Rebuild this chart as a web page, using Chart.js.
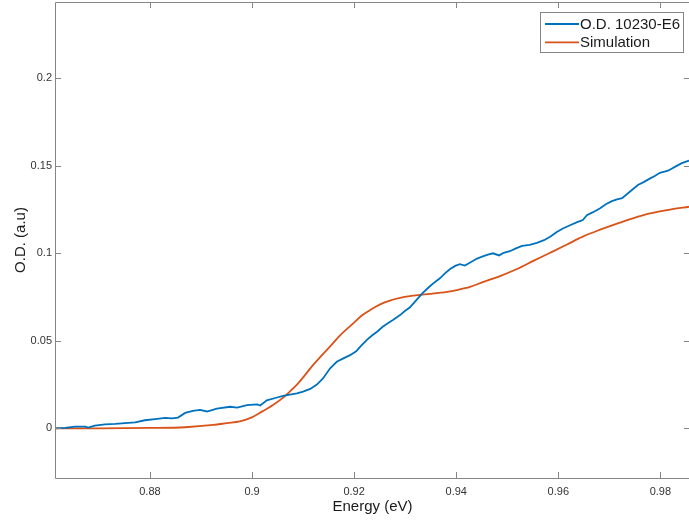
<!DOCTYPE html>
<html>
<head>
<meta charset="utf-8">
<title>O.D. vs Energy</title>
<script src="https://cdn.jsdelivr.net/npm/chart.js@4.4.1/dist/chart.umd.min.js"></script>
<style>
  html, body { margin: 0; padding: 0; background: #fff; overflow: hidden; }
  #wrap { width: 690px; height: 523px; }
</style>
</head>
<body>
<div id="wrap"><canvas id="od-chart"></canvas></div>
<script>
// Measured optical density (sample 10230-E6)
const measEnergy = [0.8614, 0.8634, 0.8653, 0.8673, 0.8679, 0.8692, 0.8712, 0.8732, 0.8751, 0.8771,
    0.8790, 0.8810, 0.8830, 0.8843, 0.8855, 0.8869, 0.8884, 0.8898, 0.8912, 0.8931,
    0.8957, 0.8971, 0.8990, 0.9010, 0.9016, 0.9029, 0.9049, 0.9061, 0.9074, 0.9088,
    0.9100, 0.9114, 0.9127, 0.9139, 0.9153, 0.9166, 0.9178, 0.9192, 0.9204, 0.9213,
    0.9225, 0.9235, 0.9245, 0.9256, 0.9266, 0.9276, 0.9290, 0.9300, 0.9309, 0.9321,
    0.9335, 0.9349, 0.9358, 0.9368, 0.9378, 0.9388, 0.9398, 0.9407, 0.9417, 0.9429,
    0.9441, 0.9452, 0.9462, 0.9472, 0.9484, 0.9493, 0.9505, 0.9517, 0.9529, 0.9544,
    0.9558, 0.9572, 0.9584, 0.9597, 0.9609, 0.9623, 0.9637, 0.9648, 0.9656, 0.9668,
    0.9682, 0.9693, 0.9705, 0.9715, 0.9725, 0.9740, 0.9756, 0.9768, 0.9780, 0.9789,
    0.9799, 0.9815, 0.9831, 0.9842, 0.9856];
const measOD = [0.0000, 0.0002, 0.0010, 0.0010, 0.0004, 0.0015, 0.0023, 0.0025, 0.0029, 0.0034,
    0.0046, 0.0053, 0.0060, 0.0057, 0.0061, 0.0088, 0.0100, 0.0105, 0.0096, 0.0113,
    0.0123, 0.0118, 0.0132, 0.0137, 0.0130, 0.0160, 0.0176, 0.0185, 0.0192, 0.0200,
    0.0210, 0.0225, 0.0250, 0.0285, 0.0343, 0.0380, 0.0398, 0.0418, 0.0440, 0.0470,
    0.0505, 0.0530, 0.0552, 0.0580, 0.0600, 0.0619, 0.0647, 0.0672, 0.0690, 0.0730,
    0.0775, 0.0813, 0.0835, 0.0857, 0.0885, 0.0910, 0.0928, 0.0938, 0.0930, 0.0950,
    0.0970, 0.0982, 0.0992, 0.1000, 0.0988, 0.1003, 0.1012, 0.1028, 0.1042, 0.1048,
    0.1060, 0.1075, 0.1095, 0.1122, 0.1142, 0.1160, 0.1178, 0.1190, 0.1218, 0.1235,
    0.1257, 0.1280, 0.1298, 0.1308, 0.1315, 0.1352, 0.1390, 0.1408, 0.1428, 0.1442,
    0.1460, 0.1472, 0.1498, 0.1515, 0.1530];

// Simulated absorption
const simEnergy = [0.8614, 0.8702, 0.8800, 0.8869, 0.8924, 0.8951, 0.8976, 0.8996, 0.9021, 0.9041,
    0.9061, 0.9074, 0.9088, 0.9104, 0.9119, 0.9133, 0.9153, 0.9172, 0.9186, 0.9202,
    0.9215, 0.9231, 0.9251, 0.9270, 0.9290, 0.9309, 0.9329, 0.9349, 0.9382, 0.9401,
    0.9427, 0.9452, 0.9486, 0.9519, 0.9550, 0.9584, 0.9617, 0.9648, 0.9682, 0.9715,
    0.9746, 0.9780, 0.9819, 0.9856];
const simOD = [0.0000, 0.0000, 0.0002, 0.0006, 0.0019, 0.0030, 0.0040, 0.0058, 0.0098, 0.0133,
    0.0175, 0.0210, 0.0250, 0.0305, 0.0360, 0.0405, 0.0468, 0.0530, 0.0568, 0.0610,
    0.0645, 0.0675, 0.0708, 0.0730, 0.0745, 0.0755, 0.0762, 0.0768, 0.0780, 0.0790,
    0.0808, 0.0835, 0.0870, 0.0910, 0.0955, 0.1003, 0.1050, 0.1095, 0.1135, 0.1170,
    0.1200, 0.1228, 0.1250, 0.1266];

const seriesNames = ['O.D. 10230-E6', 'Simulation'];
const seriesColors = ['#0072BD', '#D95319'];
const xTicks = [0.88, 0.9, 0.92, 0.94, 0.96, 0.98];
const yTicks = [0, 0.05, 0.1, 0.15, 0.2];

const FONT = '"Liberation Sans", Arial, Helvetica, sans-serif';
const AXIS_COLOR = '#858585';

// Box around the plot with inward tick marks on all four sides
const axesBox = {
    id: 'axesBox',
    afterDatasetsDraw(chart) {
        const { ctx, chartArea: a, scales: { x, y } } = chart;
        ctx.save();
        ctx.strokeStyle = AXIS_COLOR;
        ctx.lineWidth = 1;
        ctx.beginPath();
        ctx.rect(a.left + 0.5, a.top + 0.5, a.right - a.left, a.bottom - a.top);
        const len = 6;
        xTicks.forEach((v) => {
            const px = Math.round(x.getPixelForValue(v)) + 0.5;
            ctx.moveTo(px, a.bottom); ctx.lineTo(px, a.bottom - len);
            ctx.moveTo(px, a.top); ctx.lineTo(px, a.top + len);
        });
        yTicks.forEach((v) => {
            const py = Math.round(y.getPixelForValue(v)) + 0.5;
            ctx.moveTo(a.left, py); ctx.lineTo(a.left + len, py);
            ctx.moveTo(a.right, py); ctx.lineTo(a.right - len, py);
        });
        ctx.stroke();
        ctx.restore();
    },
    afterDraw(chart) {
        // legend box in the top right corner
        const { ctx } = chart;
        const bx = 540.5, by = 12.5, bw = 143, bh = 40;
        ctx.save();
        ctx.fillStyle = '#fff';
        ctx.fillRect(bx, by, bw, bh);
        ctx.strokeStyle = AXIS_COLOR;
        ctx.lineWidth = 1;
        ctx.strokeRect(bx, by, bw, bh);
        ctx.font = '15px ' + FONT;
        ctx.textBaseline = 'middle';
        chart.data.datasets.forEach((ds, i) => {
            const ry = 24 + i * 18.3;
            ctx.strokeStyle = ds.borderColor;
            ctx.lineWidth = 1.8;
            ctx.beginPath();
            ctx.moveTo(545, ry);
            ctx.lineTo(579, ry);
            ctx.stroke();
            ctx.fillStyle = '#1a1a1a';
            ctx.fillText(ds.label, 580, ry + 0.5);
        });
        ctx.restore();
    }
};

const toPoints = (xs, ys) => xs.map((v, i) => ({ x: v, y: ys[i] }));

new Chart(document.getElementById('od-chart'), {
    type: 'line',
    data: {
        datasets: [{
            label: seriesNames[0],
            data: toPoints(measEnergy, measOD),
            borderColor: seriesColors[0],
            borderWidth: 1.8,
            pointRadius: 0,
            tension: 0
        }, {
            label: seriesNames[1],
            data: toPoints(simEnergy, simOD),
            borderColor: seriesColors[1],
            borderWidth: 1.8,
            pointRadius: 0,
            cubicInterpolationMode: 'monotone'
        }]
    },
    options: {
        responsive: true,
        maintainAspectRatio: false,
        animation: false,
        layout: { padding: { top: 2, right: 0, left: 0, bottom: 0 } },
        plugins: {
            legend: { display: false },
            tooltip: { enabled: false }
        },
        scales: {
            x: {
                type: 'linear',
                min: 0.8614,
                max: 0.9858,
                grid: { display: false, drawTicks: false, tickLength: 0 },
                border: { display: false },
                afterBuildTicks: (s) => { s.ticks = xTicks.map((v) => ({ value: v })); },
                afterFit: (s) => { s.height = 45; s.paddingLeft = 0; s.paddingRight = 0; },
                ticks: {
                    padding: 7,
                    maxRotation: 0,
                    autoSkip: false,
                    color: '#333',
                    font: { family: FONT, size: 11 },
                    callback: (v) => String(v)
                },
                title: {
                    display: true,
                    text: 'Energy (eV)',
                    color: '#1a1a1a',
                    font: { family: FONT, size: 15 },
                    padding: { top: 0, bottom: 7 }
                }
            },
            y: {
                type: 'linear',
                min: -0.0284,
                max: 0.2436,
                grid: { display: false, drawTicks: false, tickLength: 0 },
                border: { display: false },
                afterBuildTicks: (s) => { s.ticks = yTicks.map((v) => ({ value: v })); },
                afterFit: (s) => { s.width = 55; s.paddingTop = 0; s.paddingBottom = 0; },
                ticks: {
                    padding: 3,
                    autoSkip: false,
                    color: '#333',
                    font: { family: FONT, size: 11 },
                    callback: (v) => String(v)
                },
                title: {
                    display: true,
                    text: 'O.D. (a.u)',
                    color: '#1a1a1a',
                    font: { family: FONT, size: 15 },
                    padding: { top: 12, bottom: 0 }
                }
            }
        }
    },
    plugins: [axesBox]
});
</script>
</body>
</html>
